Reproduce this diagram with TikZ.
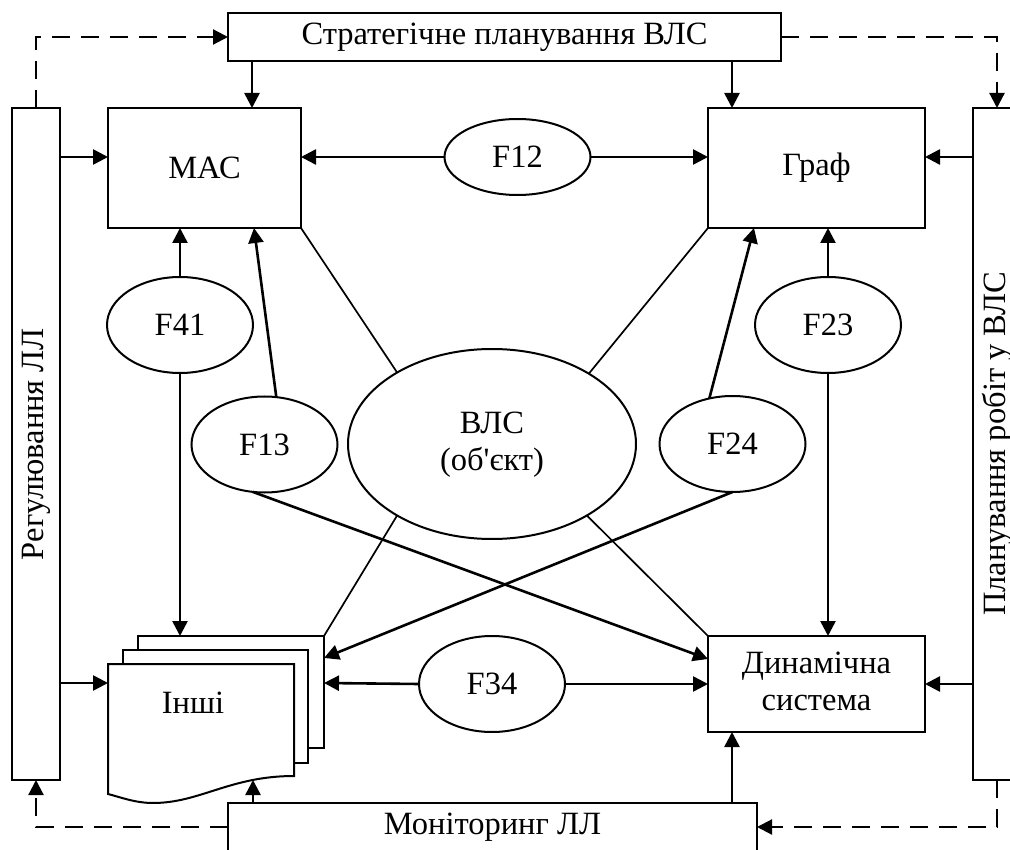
\documentclass[tikz,border=0pt]{standalone}
\usepackage{fontspec}
\setmainfont{Liberation Serif}
\usetikzlibrary{arrows.meta,shapes.geometric}
\tikzset{
  box/.style={draw,line width=2pt,inner sep=0pt,outer sep=0pt,align=center},
  oval/.style={draw,ellipse,line width=2pt,inner sep=0pt,outer sep=0pt,align=center,minimum width=146pt,minimum height=96pt},
  page/.style={draw,fill=white,line width=2pt},
  arr/.style={-{Triangle[length=15pt,width=15pt]},line width=2.6pt},
  dasharr/.style={arr,line width=2.2pt,dash pattern=on 18pt off 11pt},
  thinline/.style={line width=1.7pt}
}
\begin{document}
\begin{tikzpicture}[x=1pt,y=-1pt,every node/.style={font=\fontsize{32.5}{38}\selectfont}]
\useasboundingbox (0,0) rectangle (1010,850);
\clip (0,0) rectangle (1010,850);
% frame boxes
\node[box,minimum width=553pt,minimum height=48pt] (strat) at (504.5,37) {Стратегічне планування ВЛС};
\node[box,minimum width=529pt,minimum height=48pt] (monit) at (492.5,827) {Моніторинг ЛЛ};
\node[box,minimum width=48pt,minimum height=672pt] (reg) at (36,444) {\rotatebox{90}{Регулювання ЛЛ}};
\node[box,minimum width=48pt,minimum height=672pt] (plan) at (997,444) {\rotatebox{90}{Планування робіт у ВЛС}};
% models
\node[box,minimum width=193pt,minimum height=120pt] (mac) at (204.5,168) {МАС};
\node[box,minimum width=217pt,minimum height=120pt] (graf) at (816.5,168) {Граф};
\node[box,minimum width=217pt,minimum height=96pt] (dyn) at (816.5,684) {\raisebox{7pt}{\begin{tabular}{@{}c@{}}Динамічна\\[-1pt]система\end{tabular}}};
% stack of pages
\draw[page] (138,636) rectangle (324,748);
\draw[page] (123,650) rectangle (308,763);
\draw[page] (108,664) -- (294,664) -- (294,776) .. controls (230,776) and (200,803) .. (153,803) .. controls (135,803) and (120,797) .. (108,794) -- cycle;
\node (inshi) at (193,703) {Інші};
\coordinate (inC) at (324,636);
\coordinate (inL) at (108,683);
\coordinate (inR) at (324,683);
\coordinate (inX) at (324,658);
\coordinate (inB) at (253,780);
% links
\node[oval,minimum width=288pt,minimum height=190pt] (vls) at (492,444) {\raisebox{9pt}{\begin{tabular}{@{}c@{}}ВЛС\\[-1pt](об\textquotesingle єкт)\end{tabular}}};
\foreach \n/\t/\x/\y in {f41/F41/180/325,f13/F13/264.5/444.5,f24/F24/732.5/444,f23/F23/828/325,f34/F34/492/684}
  \node[oval] (\n) at (\x,\y) {\t};
\node[oval,minimum height=76pt] (f12) at (517.5,157) {F12};
% arrows
\draw[arr] ([xshift=47.5pt]mac.north |- strat.south) -- ([xshift=47.5pt]mac.north);
\draw[arr] ([xshift=-84.5pt]graf.north |- strat.south) -- ([xshift=-84.5pt]graf.north);
\draw[arr] (reg.east |- f12) -- (mac.west |- f12);
\draw[arr] (plan.west |- f12) -- (graf.east |- f12);
\draw[arr] (f12.west) -- (mac.east |- f12);
\draw[arr] (f12.east) -- (graf.west |- f12);
\draw[arr] (f41.north) -- (f41.north |- mac.south);
\draw[arr] (f41.south) -- (f41.south |- inC);
\draw[arr] (f13.76) -- ([xshift=49.5pt]mac.south);
\draw[arr] (f23.north) -- (f23.north |- graf.south);
\draw[arr] (f23.south) -- (f23.south |- dyn.north);
\draw[arr] (f24.117) -- ([xshift=-62.5pt]graf.south);
\draw[arr] (f13.256) -- ([yshift=25pt]dyn.west);
\draw[arr] (f24.south) -- (inX);
\draw[arr] (reg.east |- inL) -- (inL);
\draw[arr] (plan.west |- dyn) -- (dyn.east);
\draw[arr] (f34.west) -- (inR);
\draw[arr] (f34.east) -- (dyn.west);
\draw[arr] (monit.north -| inB) -- (inB);
\draw[arr] ([xshift=-84.5pt]dyn.south |- monit.north) -- ([xshift=-84.5pt]dyn.south);
\draw[thinline] (vls.143.5) -- (mac.south east);
\draw[thinline] (vls.36.6) -- (graf.south west);
\draw[thinline] (vls.217) -- (inC);
\draw[thinline] (vls.-37) -- (dyn.north west);
% feedback
\draw[dasharr] (reg.north) |- (strat.west);
\draw[dasharr] (strat.east) -| (plan.north);
\draw[dasharr] (plan.south) |- (monit.east);
\draw[dasharr] (monit.west) -| (reg.south);
\end{tikzpicture}
\end{document}
